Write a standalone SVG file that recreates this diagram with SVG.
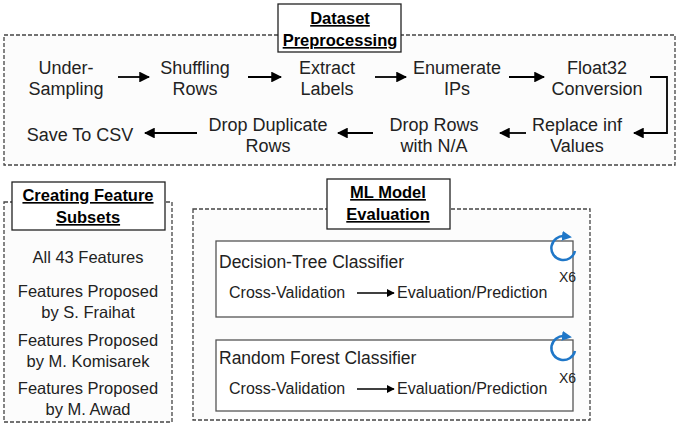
<svg xmlns="http://www.w3.org/2000/svg" width="685" height="434" viewBox="0 0 685 434">
<defs>
<marker id="ah" viewBox="0 0 10 10" refX="9" refY="5" markerWidth="6" markerHeight="6" orient="auto-start-reverse"><path d="M0,0L10,5L0,10z" fill="#000"/></marker>
<marker id="bh" viewBox="0 0 10 10" refX="3" refY="5" markerWidth="4" markerHeight="4" orient="auto"><path d="M0,0L10,5L0,10z" fill="#1f77c8"/></marker>
<style>
text{font-family:"Liberation Sans",Arial,sans-serif;font-size:18px;fill:#222}
.c{text-anchor:middle}
.t{font-weight:bold;text-decoration:underline;text-anchor:middle;font-size:16.5px;fill:#000}
.s{font-size:16.5px;text-anchor:middle}
.dash{fill:#fcfcfc;stroke:#444;stroke-width:1.3;stroke-dasharray:4 2}
.tb{fill:#fff;stroke:#222;stroke-width:1.3}
.ib{fill:#fff;stroke:#555;stroke-width:1.3}
.ar{stroke:#000;stroke-width:1.8;fill:none;marker-end:url(#ah)}
.bl{fill:none;stroke:#1f77c8;stroke-width:2.5;marker-end:url(#bh)}
</style>
</defs>
<rect width="685" height="434" fill="#fff"/>
<g id="preprocessing">
<rect class="dash" x="4" y="35" width="671" height="130"/>
<rect class="tb" x="278" y="4" width="123" height="48"/>
<text class="t" x="340" y="24">Dataset</text>
<text class="t" x="340" y="46">Preprocessing</text>
</g>
<g id="n1"><text class="c" x="66" y="74">Under-</text><text class="c" x="66" y="95">Sampling</text></g>
<g id="n2"><text class="c" x="195" y="74">Shuffling</text><text class="c" x="195" y="95">Rows</text></g>
<g id="n3"><text class="c" x="327" y="74">Extract</text><text class="c" x="327" y="95">Labels</text></g>
<g id="n4"><text class="c" x="457" y="74">Enumerate</text><text class="c" x="457" y="95">IPs</text></g>
<g id="n5"><text class="c" x="597" y="74">Float32</text><text class="c" x="597" y="95">Conversion</text></g>
<g id="n6"><text class="c" x="577" y="131">Replace inf</text><text class="c" x="577" y="152">Values</text></g>
<g id="n7"><text class="c" x="434" y="131">Drop Rows</text><text class="c" x="434" y="152">with N/A</text></g>
<g id="n8"><text class="c" x="268" y="131">Drop Duplicate</text><text class="c" x="268" y="152">Rows</text></g>
<g id="n9"><text class="c" x="80" y="141">Save To CSV</text></g>
<g id="subsets">
<rect class="dash" x="4" y="202" width="168" height="220"/>
<rect class="tb" x="12" y="182" width="153" height="48"/>
<text class="t" x="88" y="201">Creating Feature</text>
<text class="t" x="88" y="223">Subsets</text>
<text class="s" x="88" y="263">All 43 Features</text>
<text class="s" x="88" y="297">Features Proposed</text>
<text class="s" x="88" y="318">by S. Fraihat</text>
<text class="s" x="88" y="346">Features Proposed</text>
<text class="s" x="88" y="367">by M. Komisarek</text>
<text class="s" x="88" y="394">Features Proposed</text>
<text class="s" x="88" y="415">by M. Awad</text>
</g>
<g id="evaluation">
<rect class="dash" x="193" y="209" width="397" height="211"/>
<rect class="tb" x="327" y="179" width="123" height="50"/>
<text class="t" x="388" y="198">ML Model</text>
<text class="t" x="388" y="220">Evaluation</text>
</g>
<g id="dt">
<rect class="ib" x="216" y="241" width="357" height="76"/>
<text x="219" y="268" style="font-size:17.5px">Decision-Tree Classifier</text>
<text x="229" y="298" style="font-size:16px">Cross-Validation</text>
<text x="397" y="298" style="font-size:16px">Evaluation/Prediction</text>
<text x="559" y="282" style="font-size:14px">X6</text>
<path class="bl" d="M575,251 A12,12 0 1 1 565,236.2"/>
</g>
<g id="rf">
<rect class="ib" x="216" y="340" width="357" height="71"/>
<text x="219" y="364" style="font-size:17.5px">Random Forest Classifier</text>
<text x="229" y="394" style="font-size:16px">Cross-Validation</text>
<text x="397" y="394" style="font-size:16px">Evaluation/Prediction</text>
<text x="559" y="383" style="font-size:14px">X6</text>
<path class="bl" d="M575,351 A12,12 0 1 1 565,336.2"/>
</g>
<g id="connectors">
<path class="ar" d="M118,77H149"/>
<path class="ar" d="M248,77H281"/>
<path class="ar" d="M375,77H406"/>
<path class="ar" d="M509,77H544"/>
<path class="ar" d="M650,77H667V133H634"/>
<path class="ar" d="M526,133H500"/>
<path class="ar" d="M373,133H338"/>
<path class="ar" d="M197,133H145"/>
<path class="ar" d="M357,293H394" style="stroke-width:1.3"/>
<path class="ar" d="M357,389H394" style="stroke-width:1.3"/>
</g>
</svg>
